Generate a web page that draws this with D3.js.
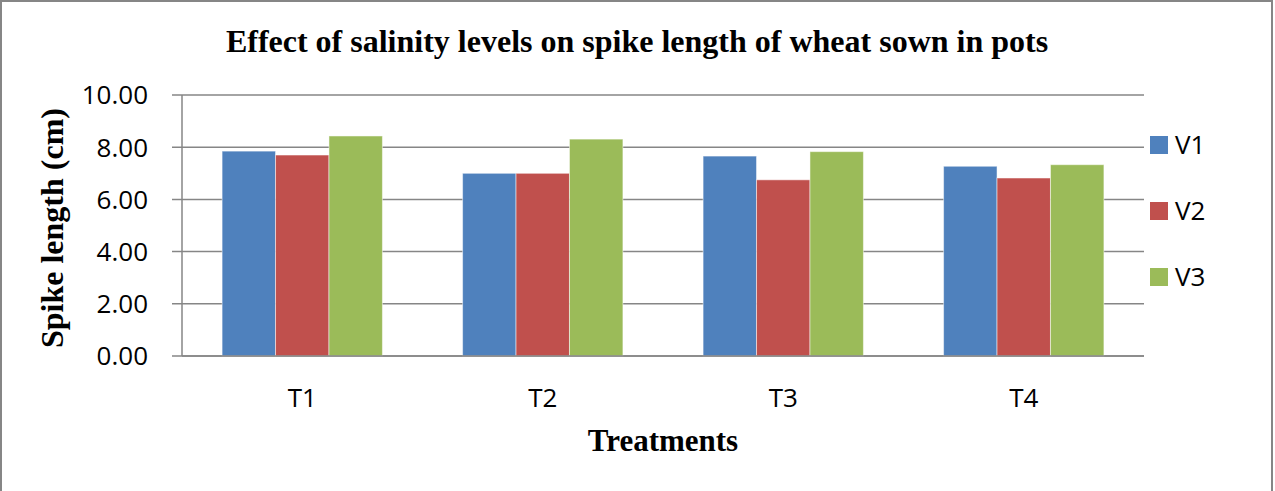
<!DOCTYPE html>
<html lang="en">
<head>
<meta charset="UTF-8">
<title>Spike length</title>
<script src="https://d3js.org/d3.v7.min.js"></script>
<style>
    body { margin: 0; background: #fff; }
    svg { display: block; }
    .tick-label { font-family: "Open Sans", "Noto Sans", sans-serif; font-size: 26px; fill: #000; }
    .serif-bold { font-family: "Liberation Serif", "DejaVu Serif", serif; font-weight: bold; fill: #000; }
</style>
</head>
<body>
<div id="chart"></div>
<script>
// data
const treatments = ['T1', 'T2', 'T3', 'T4'];
const seriesNames = ['V1', 'V2', 'V3'];
const v1 = [7.85, 7.00, 7.66, 7.27];
const v2 = [7.70, 7.00, 6.75, 6.82];
const v3 = [8.43, 8.31, 7.83, 7.33];
const yTicks = [0, 2, 4, 6, 8, 10];
const colors = ['#4F81BD', '#C0504D', '#9BBB59'];

const width = 1275, height = 491;
const plot = { left: 182, right: 1144, top: 95, bottom: 356 };

const svg = d3.select('#chart').append('svg')
    .attr('width', width)
    .attr('height', height);

// outer chart border (bottom edge is cut off in the reference)
svg.append('path')
    .attr('d', `M1,${height} L1,1 L1272,1 L1272,${height}`)
    .attr('fill', 'none')
    .attr('stroke', '#868686')
    .attr('stroke-width', 2);

const x = d3.scaleBand()
    .domain(treatments)
    .range([plot.left, plot.right])
    .paddingInner(1 / 3)
    .paddingOuter(1 / 6);

const xInner = d3.scaleBand()
    .domain(seriesNames)
    .range([0, x.bandwidth()]);

const y = d3.scaleLinear()
    .domain([0, 10])
    .range([plot.bottom, plot.top]);

// gridlines
svg.append('g').selectAll('line')
    .data(yTicks)
    .enter().append('line')
    .attr('x1', plot.left - 10)
    .attr('x2', plot.right)
    .attr('y1', d => y(d))
    .attr('y2', d => y(d))
    .attr('stroke', '#868686')
    .attr('stroke-width', 1.5);

// y axis line
svg.append('line')
    .attr('x1', plot.left).attr('x2', plot.left)
    .attr('y1', plot.top).attr('y2', plot.bottom)
    .attr('stroke', '#868686')
    .attr('stroke-width', 1.5);

// y tick labels
svg.append('g').selectAll('text')
    .data(yTicks)
    .enter().append('text')
    .attr('class', 'tick-label')
    .attr('x', 148)
    .attr('y', d => y(d))
    .attr('dy', '0.36em')
    .attr('text-anchor', 'end')
    .text(d => d.toFixed(2));

// bars
const rows = treatments.map((t, i) => ({ t, vals: [v1[i], v2[i], v3[i]] }));
const groups = svg.append('g').selectAll('g')
    .data(rows)
    .enter().append('g')
    .attr('transform', d => `translate(${x(d.t)},0)`);

groups.selectAll('rect')
    .data(d => d.vals.map((v, j) => ({ name: seriesNames[j], v, j })))
    .enter().append('rect')
    .attr('x', d => xInner(d.name))
    .attr('y', d => y(d.v))
    .attr('width', xInner.bandwidth())
    .attr('height', d => y(0) - y(d.v))
    .attr('fill', d => colors[d.j])
    .attr('stroke', 'rgba(255,255,255,0.5)')
    .attr('stroke-width', 1);

// x axis line (drawn over bars)
svg.append('line')
    .attr('x1', plot.left).attr('x2', plot.right)
    .attr('y1', plot.bottom).attr('y2', plot.bottom)
    .attr('stroke', '#868686')
    .attr('stroke-width', 1.5);

// x labels
svg.append('g').selectAll('text')
    .data(treatments)
    .enter().append('text')
    .attr('class', 'tick-label')
    .attr('x', d => x(d) + x.bandwidth() / 2)
    .attr('y', 407)
    .attr('text-anchor', 'middle')
    .text(d => d);

// title
svg.append('text')
    .attr('class', 'serif-bold')
    .attr('x', 637)
    .attr('y', 52)
    .attr('text-anchor', 'middle')
    .style('font-size', '32px')
    .text('Effect of salinity levels on spike length of wheat sown in pots');

// axis titles
svg.append('text')
    .attr('class', 'serif-bold')
    .attr('x', (plot.left + plot.right) / 2)
    .attr('y', 451)
    .attr('text-anchor', 'middle')
    .style('font-size', '31px')
    .text('Treatments');

svg.append('text')
    .attr('class', 'serif-bold')
    .attr('transform', 'translate(63,228) rotate(-90)')
    .attr('text-anchor', 'middle')
    .style('font-size', '32px')
    .text('Spike length (cm)');

// legend
const legend = svg.append('g').selectAll('g')
    .data(seriesNames)
    .enter().append('g')
    .attr('transform', (d, i) => `translate(1150,${136 + i * 66})`);

legend.append('rect')
    .attr('width', 18)
    .attr('height', 18)
    .attr('fill', (d, i) => colors[i]);

legend.append('text')
    .attr('class', 'tick-label')
    .attr('x', 25)
    .attr('y', 9)
    .attr('dy', '0.36em')
    .text(d => d);
</script>
</body>
</html>
